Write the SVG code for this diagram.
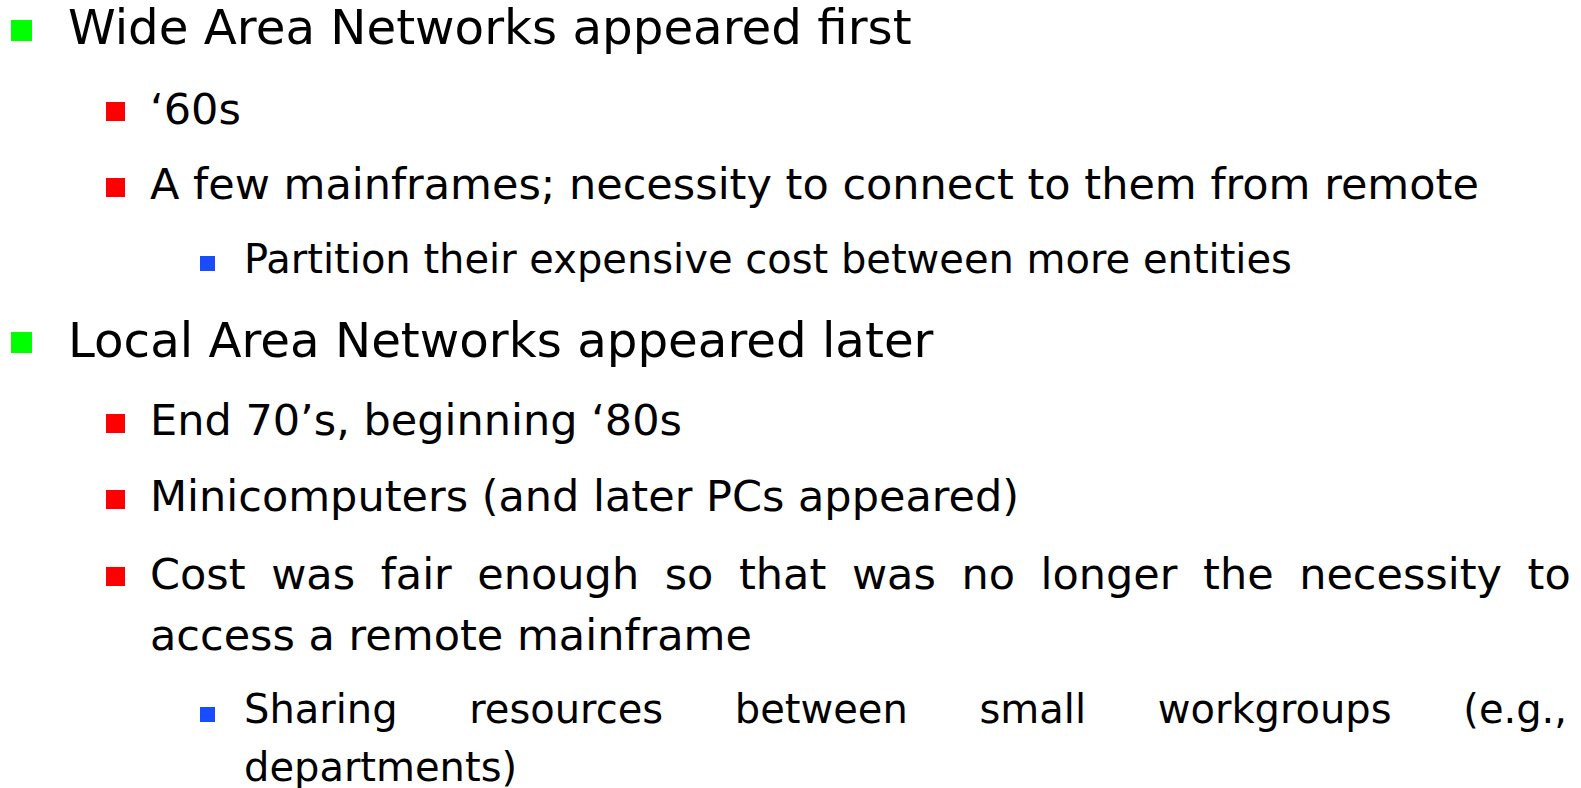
<svg xmlns="http://www.w3.org/2000/svg" width="1581" height="788" viewBox="0 0 1581 788">
  <style>
    text { font-family: "DejaVu Sans", Verdana, sans-serif; fill: #000000; }
    .l1 { font-size: 48.3px; }
    .l2 { font-size: 43px; }
    .l3 { font-size: 40px; }
    .b1 { fill: #00FF00; }
    .b2 { fill: #FF0000; }
    .b3 { fill: #1A4CFF; }
  </style>
  <rect x="0" y="0" width="1581" height="788" fill="#FFFFFF"/>

  <!-- first-level item: WANs -->
  <g id="item-wan">
    <rect class="b1" x="11" y="20" width="21" height="21"/>
    <text class="l1" x="68" y="44">Wide Area Networks appeared first</text>
  </g>
  <g id="item-60s">
    <rect class="b2" x="106" y="102" width="19" height="19"/>
    <text class="l2" x="150" y="124">‘60s</text>
  </g>
  <g id="item-mainframes">
    <rect class="b2" x="106" y="178" width="19" height="19"/>
    <text class="l2" x="150" y="199">A few mainframes; necessity to connect to them from remote</text>
  </g>
  <g id="item-partition">
    <rect class="b3" x="200" y="256" width="15" height="15"/>
    <text class="l3" x="244" y="273">Partition their expensive cost between more entities</text>
  </g>

  <!-- first-level item: LANs -->
  <g id="item-lan">
    <rect class="b1" x="11" y="332" width="21" height="21"/>
    <text class="l1" x="68" y="357">Local Area Networks appeared later</text>
  </g>
  <g id="item-70s">
    <rect class="b2" x="106" y="414" width="19" height="19"/>
    <text class="l2" x="150" y="435">End 70’s, beginning ‘80s</text>
  </g>
  <g id="item-minicomputers">
    <rect class="b2" x="106" y="490" width="19" height="19"/>
    <text class="l2" x="150" y="511">Minicomputers (and later PCs appeared)</text>
  </g>
  <g id="item-cost">
    <rect class="b2" x="106" y="567" width="19" height="19"/>
    <!-- justified line: extra word spacing fills the column width -->
    <text class="l2" x="150" y="589" word-spacing="11.9">Cost was fair enough so that was no longer the necessity to</text>
    <text class="l2" x="150" y="650">access a remote mainframe</text>
  </g>
  <g id="item-sharing">
    <rect class="b3" x="200" y="707" width="15" height="15"/>
    <text class="l3" x="244" y="723" word-spacing="59">Sharing resources between small workgroups (e.g.,</text>
    <text class="l3" x="244" y="780.5">departments)</text>
  </g>
</svg>
